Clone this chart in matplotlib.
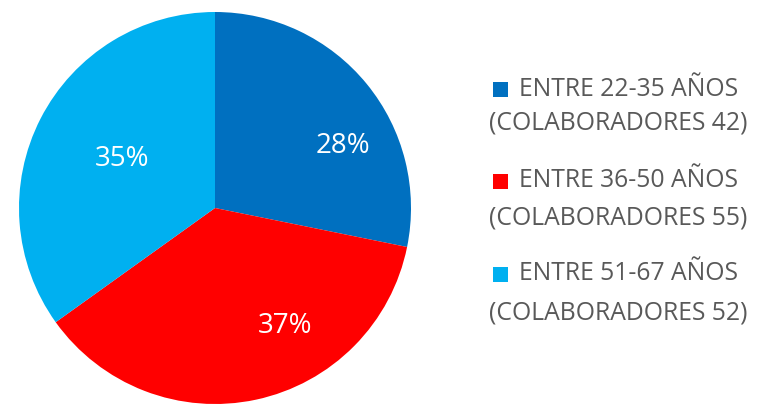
import matplotlib
matplotlib.use("Agg")
import matplotlib.pyplot as plt
from matplotlib.patches import Rectangle

ranges = ["22-35", "36-50", "51-67"]
counts = [42, 55, 52]
colors = ["#0070C0", "#FF0000", "#00B0F0"]

# label placement (Excel best-fit style), in axes data units
label_pos = [(0.655, 0.315), (0.36, -0.60), (-0.475, 0.25)]

W, H = 760, 404
fig = plt.figure(figsize=(W / 100, H / 100), dpi=100)
fig.patch.set_facecolor("white")

cx, cy, r = 215, 208, 196
ax = fig.add_axes([(cx - r) / W, (H - cy - r) / H, 2 * r / W, 2 * r / H])
wedges, texts, autotexts = ax.pie(
    counts, colors=colors, startangle=90, counterclock=False,
    autopct="%1.0f%%", pctdistance=0.70, radius=1.0,
    wedgeprops=dict(linewidth=0),
    textprops=dict(color="white", fontsize=20, family=["Open Sans", "DejaVu Sans"]),
)
for t, p in zip(autotexts, label_pos):
    t.set_position(p)
ax.set_xlim(-1, 1)
ax.set_ylim(-1, 1)
ax.axis("off")

# manual legend
line1_y = [89, 181, 274]
line2_y = [123, 218, 313]
for i, (rg, n, c) in enumerate(zip(ranges, counts, colors)):
    y1 = line1_y[i]
    fig.patches.append(Rectangle((493 / W, (H - y1 - 8) / H), 15 / W, 15 / H,
                                 transform=fig.transFigure, facecolor=c,
                                 edgecolor="none"))
    fig.text(519 / W, (H - y1) / H, f"ENTRE {rg} AÑOS", color="#595959",
             fontsize=17.8, va="center", ha="left",
             family=["Open Sans", "DejaVu Sans"])
    fig.text(489 / W, (H - line2_y[i]) / H, f"(COLABORADORES {n})", color="#595959",
             fontsize=17.8, va="center", ha="left",
             family=["Open Sans", "DejaVu Sans"])

fig.savefig("out.png", dpi=100)
